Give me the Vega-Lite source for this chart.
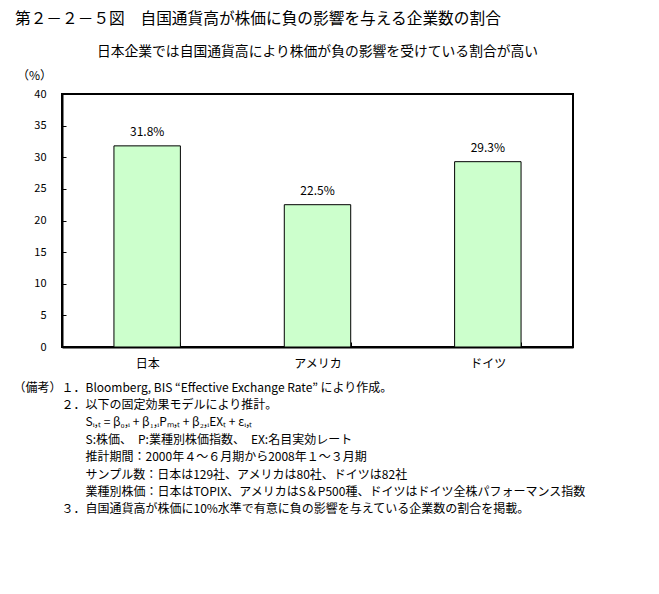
{
  "$schema": "https://vega.github.io/schema/vega-lite/v6.json",
  "padding": {"left": 12, "top": 10, "right": 0, "bottom": 0},
  "background": "white",
  "title": {
    "text": "第２－２－５図　自国通貨高が株価に負の影響を与える企業数の割合",
    "anchor": "start",
    "frame": "group",
    "dx": -47,
    "fontSize": 15.7,
    "font": "Noto Sans CJK JP",
    "fontWeight": "normal",
    "color": "#000",
    "offset": 17
  },
  "config": {
    "font": "Noto Sans CJK JP",
    "view": {"stroke": "#000", "strokeWidth": 2}
  },
  "vconcat": [
    {
      "width": 511,
      "height": 253,
      "title": {
        "text": "日本企業では自国通貨高により株価が負の影響を受けている割合が高い",
        "anchor": "middle",
        "fontSize": 13.8,
        "fontWeight": "normal",
        "color": "#000",
        "offset": 10
      },
      "data": {
        "values": [
          {"country": "日本", "value": 31.8, "label": "31.8%"},
          {"country": "アメリカ", "value": 22.5, "label": "22.5%"},
          {"country": "ドイツ", "value": 29.3, "label": "29.3%"}
        ]
      },
      "encoding": {
        "x": {
          "field": "country",
          "type": "nominal",
          "sort": null,
          "scale": {"paddingInner": 0.61, "paddingOuter": 0.305},
          "axis": {
            "title": [
              "（備考）１．Bloomberg, BIS “Effective Exchange Rate” により作成。",
              "\u200b　　　　２．以下の固定効果モデルにより推計。",
              "\u200b　　　　　　Sᵢ,ₜ = β₀,ᵢ + β₁,ᵢPₘ,ₜ + β₂,ᵢEXₜ + εᵢ,ₜ",
              "\u200b　　　　　　S:株価、　P:業種別株価指数、　EX:名目実効レート",
              "\u200b　　　　　　推計期間：2000年４～６月期から2008年１～３月期",
              "\u200b　　　　　　サンプル数：日本は129社、アメリカは80社、ドイツは82社",
              "\u200b　　　　　　業種別株価：日本はTOPIX、アメリカはS＆P500種、ドイツはドイツ全株パフォーマンス指数",
              "\u200b　　　　３．自国通貨高が株価に10%水準で有意に負の影響を与えている企業数の割合を掲載。"
            ],
            "titleFontSize": 12,
            "titleFontWeight": "normal",
            "titleColor": "#000",
            "titleAlign": "left",
            "titleBaseline": "top",
            "titleX": -49,
            "titleY": 35,
            "titleLineHeight": 17.4,
            "labelAngle": 0,
            "labelFontSize": 12,
            "labelColor": "#000",
            "labelPadding": 16,
            "tickBand": "extent",
            "tickSize": -5,
            "tickColor": "#000",
            "domainColor": "#000",
            "domainWidth": 2
          }
        },
        "y": {
          "field": "value",
          "type": "quantitative",
          "scale": {"domain": [0, 40], "nice": false},
          "axis": {
            "values": [0, 5, 10, 15, 20, 25, 30, 35, 40],
            "grid": false,
            "title": "（%）",
            "titleAngle": 0,
            "titleFontSize": 12,
            "titleFontWeight": "normal",
            "titleColor": "#000",
            "titleAlign": "center",
            "titleBaseline": "middle",
            "titleX": -28,
            "titleY": -19,
            "labelFontSize": 11,
            "labelColor": "#000",
            "labelPadding": 20,
            "tickSize": -4,
            "tickColor": "#000",
            "domainColor": "#000",
            "domainWidth": 2
          }
        }
      },
      "layer": [
        {"mark": {"type": "bar", "fill": "#CCFFCC", "stroke": "#000", "strokeWidth": 1}},
        {
          "mark": {"type": "text", "baseline": "bottom", "dy": -7, "fontSize": 12, "color": "#000"},
          "encoding": {"text": {"field": "label"}}
        }
      ]
    }
  ]
}
